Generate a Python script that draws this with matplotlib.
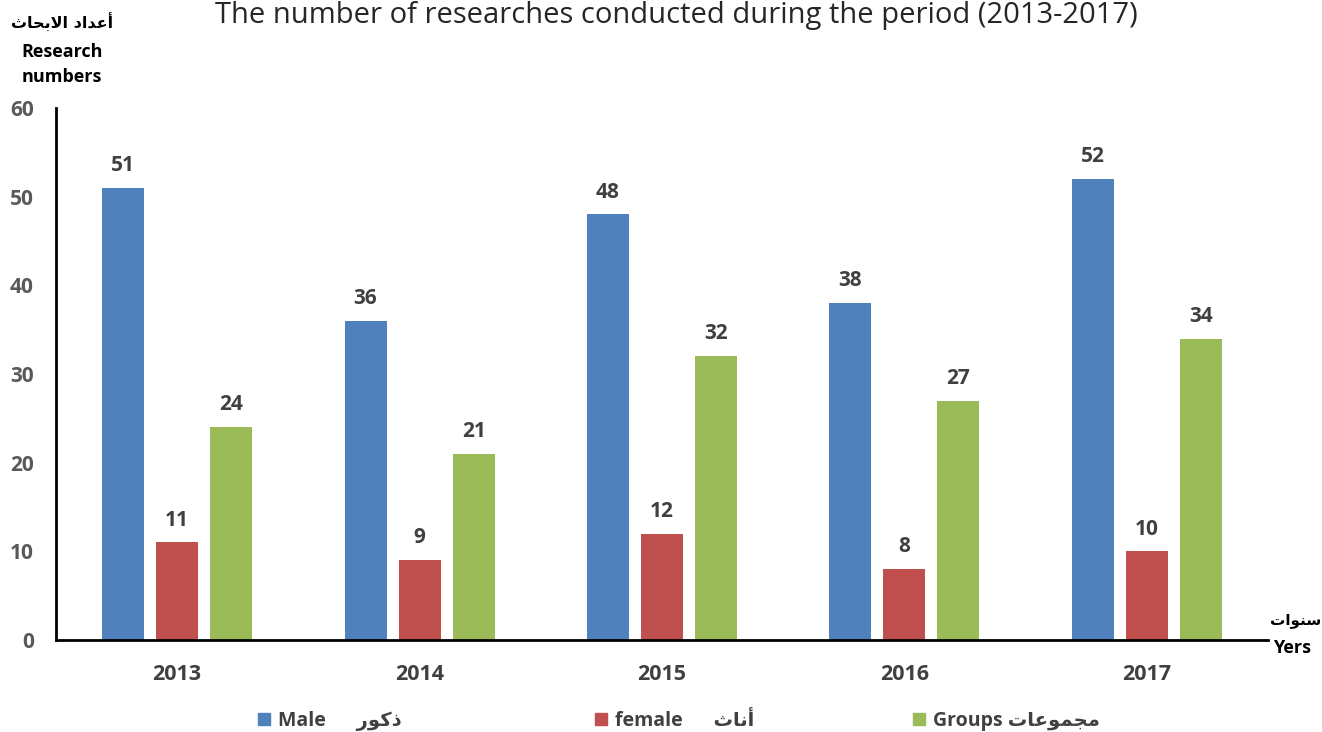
import matplotlib
matplotlib.use("Agg")
import matplotlib.pyplot as plt
import numpy as np
from matplotlib.lines import Line2D

years = ["2013", "2014", "2015", "2016", "2017"]
male = [51, 36, 48, 38, 52]
female = [11, 9, 12, 8, 10]
groups = [24, 21, 32, 27, 34]
yticks = [0, 10, 20, 30, 40, 50, 60]

# Arabic labels in visual (presentation-form) order so they render shaped
ar_research = "\ufe99\ufe8e\ufea4\ufe91\ufefb\ufe8d \ufea9\ufe8d\ufeaa\ufecb\ufe83"  # أعداد الابحاث
ar_male = "\ufead\ufeee\ufedb\ufeab"  # ذكور
ar_female = "\ufe99\ufe8e\ufee7\ufe83"  # أناث
ar_groups = "\ufe95\ufe8e\ufecb\ufeee\ufee4\ufea0\ufee3"  # مجموعات
ar_years = "\ufe95\ufe8d\ufeee\ufee8\ufeb3"  # سنوات

FAM = ["Open Sans", "DejaVu Sans"]
plt.rcParams["font.family"] = FAM

colors = ["#4F81BD", "#C0504D", "#9BBB59"]
series = [male, female, groups]

fig = plt.figure(figsize=(13.22, 7.32), dpi=100)
ax = fig.add_axes([56/1322, 1-640/732, (1268-56)/1322, (640-108)/732])

x = np.arange(len(years))
w = 0.173
offs = [-0.223, 0.0, 0.223]
for vals, c, o in zip(series, colors, offs):
    bars = ax.bar(x + o, vals, width=w, color=c, zorder=2)
    for b, v in zip(bars, vals):
        ax.annotate(str(v), (b.get_x() + b.get_width()/2, v), xytext=(0, 8.5),
                    textcoords="offset points", ha="center", va="bottom",
                    fontsize=15, fontweight="bold", color="#404040")

ax.set_xlim(-0.5, 4.5)
ax.set_ylim(0, 60)
ax.set_yticks(yticks)
ax.set_yticklabels([str(t) for t in yticks], fontsize=15, fontweight="bold", color="#595959")
ax.set_xticks(x)
ax.set_xticklabels(years, fontsize=15.5, fontweight="bold", color="#404040")
ax.tick_params(axis="both", length=0)
ax.tick_params(axis="y", pad=16)
ax.tick_params(axis="x", pad=17)
for s in ["top", "right"]:
    ax.spines[s].set_visible(False)
ax.spines["left"].set_linewidth(2)
ax.spines["bottom"].set_linewidth(2)

fig.text(676/1322, 1-1/732, "The number of researches conducted during the period (2013-2017)",
         ha="center", va="top", fontsize=21, color="#262626", family=FAM)

fig.text(62/1322, 1-22/732, ar_research, ha="center", va="center", fontsize=11.5,
         fontweight="bold", color="black", family=["DejaVu Sans"])
fig.text(62/1322, 1-52/732, "Research", ha="center", va="center", fontsize=13,
         fontweight="bold", color="black")
fig.text(62/1322, 1-77/732, "numbers", ha="center", va="center", fontsize=13,
         fontweight="bold", color="black")

fig.text(1321/1322, 1-620/732, ar_years, ha="right", va="center", fontsize=11,
         fontweight="bold", color="black", family=["DejaVu Sans"])
fig.text(1292/1322, 1-648/732, "Yers", ha="center", va="center", fontsize=13,
         fontweight="bold", color="black")

labels = ["Male      " + ar_male, "female      " + ar_female, "Groups " + ar_groups]
marker_left = [258, 595, 913]
for c, lab, xl in zip(colors, labels, marker_left):
    h = Line2D([], [], marker="s", linestyle="none", markersize=9, color=c)
    leg = fig.legend([h], [lab], loc="center left",
                     bbox_to_anchor=((xl - 3) / 1322, 1 - 721/732),
                     frameon=False, handletextpad=0.3, handlelength=0.9,
                     borderaxespad=0, borderpad=0,
                     prop={"family": FAM, "weight": "bold", "size": 14})
    for t in leg.get_texts():
        t.set_color("#404040")

fig.savefig("out.png", dpi=100)
